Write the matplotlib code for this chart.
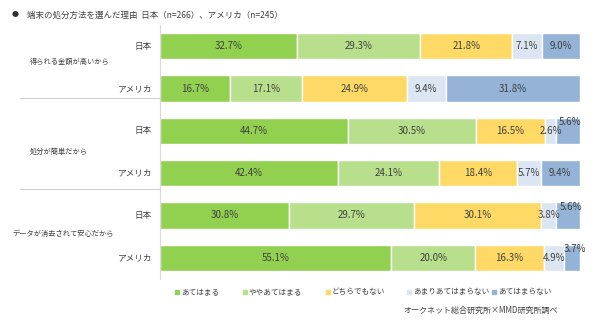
import matplotlib
matplotlib.use("Agg")
import matplotlib.pyplot as plt
from matplotlib.lines import Line2D
import numpy as np

plt.rcParams['font.family'] = ['Noto Sans CJK JP', 'DejaVu Sans']

title = "端末の処分方法を選んだ理由  日本（n=266）、アメリカ（n=245）"
groups = ["得られる金額が高いから", "処分が簡単だから", "データが消去されて安心だから"]
countries = ["日本", "アメリカ"]
series = ["あてはまる", "ややあてはまる", "どちらでもない", "あまりあてはまらない", "あてはまらない"]
values = [
    [32.7, 29.3, 21.8, 7.1, 9.0],
    [16.7, 17.1, 24.9, 9.4, 31.8],
    [44.7, 30.5, 16.5, 2.6, 5.6],
    [42.4, 24.1, 18.4, 5.7, 9.4],
    [30.8, 29.7, 30.1, 3.8, 5.6],
    [55.1, 20.0, 16.3, 4.9, 3.7],
]
colors = ["#92D050", "#B8DF8C", "#FFD966", "#DCE6F2", "#95B3D7"]
source = "オークネット総合研究所×MMD研究所調べ"
txt = "#404040"

fig = plt.figure(figsize=(6, 3.28), dpi=100)
W, H = 600, 328
ax = fig.add_axes([160 / W, 1 - 279 / H, 420 / W, 254 / H])
ax.set_xlim(0, 100)
ax.set_ylim(5.5, -0.5)
ax.axis('off')
ax.plot([0, 0], [-0.5, 5.5], color="#D9D9D9", lw=0.8, clip_on=False)

vals = np.array(values)
ypos = np.arange(len(values))
left = np.zeros(len(values))
for j, name in enumerate(series):
    w = vals[:, j]
    ax.barh(ypos, w, left=left, height=0.62, color=colors[j], edgecolor="white", linewidth=1.0)
    for i in range(len(values)):
        v = w[i]
        cx = left[i] + v / 2
        cy = ypos[i]
        if j == 4 and v < 6:
            cx = left[i] + v / 2 + 0.6
            cy = ypos[i] - 0.2
        ax.text(cx, cy, f"{v:.1f}%", ha='center', va='center', fontsize=7, color=txt)
    left = left + w

# country labels
for i in range(len(values)):
    fig.text(152 / W, 1 - (46 + 42.4 * i) / H, countries[i % 2], ha='right', va='center', fontsize=6.2, color=txt)

# group labels
group_y = [62, 152, 234]
group_x = [30, 30, 12]
for g, name in enumerate(groups):
    fig.text(group_x[g] / W, 1 - group_y[g] / H, name, ha='left', va='center', fontsize=5.2, color=txt)

# separators
for yy in [98, 189]:
    fig.add_artist(Line2D([20 / W, 160 / W], [1 - yy / H, 1 - yy / H], color="#D0D0D0", lw=0.8))

fig.text(12 / W, 1 - 15 / H, "●", ha='left', va='center', fontsize=5, color="#303030")
fig.text(27 / W, 1 - 15 / H, title, ha='left', va='center', fontsize=6.1, color=txt)

# legend
leg_x = [177, 245, 328, 409, 494]
for j, name in enumerate(series):
    fig.add_artist(Line2D([leg_x[j] / W], [1 - 292 / H], marker='s', linestyle='none',
                          markersize=3.2, color=colors[j]))
    fig.text((leg_x[j] + 4) / W, 1 - 292 / H, name, ha='left', va='center', fontsize=5.5, color=txt)

fig.text(558 / W, 1 - 310 / H, source, ha='right', va='center', fontsize=5.8, color=txt)

fig.savefig("out.png", dpi=100)
